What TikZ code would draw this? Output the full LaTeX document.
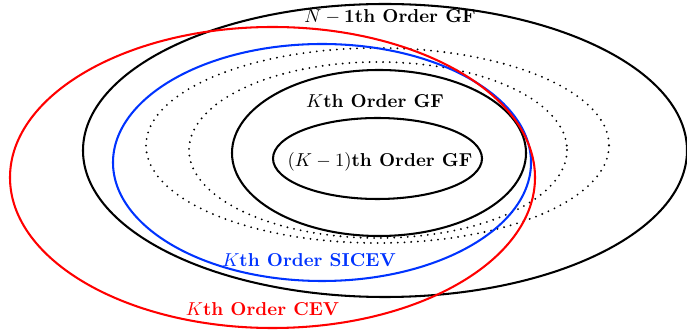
\documentclass[tikz,border=0pt]{standalone}
\usetikzlibrary{calc}
\definecolor{sicevblue}{rgb}{0,0.2,1}
\definecolor{cevred}{rgb}{1,0,0}
\begin{document}
\begin{tikzpicture}[x=0.535pt, y=-0.535pt,
  setline/.style={line width=1.1pt},
  dotline/.style={line width=1.1pt, line cap=round, dash pattern=on 0pt off 3.6pt},
  lbl/.style={anchor=base, inner sep=0pt, font=\bfseries}]
\useasboundingbox (0,0) rectangle (687,334);

% nested generating-function sets
\draw[setline] (385,150.5) ellipse [x radius=302, y radius=146.5];
\draw[dotline] (377.5,145.5) ellipse [x radius=231.5, y radius=97.5];
\draw[dotline] (378,150) ellipse [x radius=189, y radius=88];
\draw[setline] (379,153) ellipse [x radius=147, y radius=83];
\draw[setline] (377.5,158.5) ellipse [x radius=104.5, y radius=40.5];

% SICEV and CEV sets
\draw[setline, sicevblue] (322,162.5) ellipse [x radius=209, y radius=118.5];
\draw[setline, cevred] (272.5,177.5) ellipse [x radius=262.5, y radius=150.5];

% labels
\node[lbl] (gfN) at (390,23) {$N-{}$1th Order GF};
\node[lbl] (gfK) at (375,108) {$K$th Order GF};
\node[lbl] (gfKm) at (380,167) {$(K-1)$th Order GF};
\node[lbl, text=sicevblue] (sicev) at (309,267) {$K$th Order SICEV};
\node[lbl, text=cevred] (cev) at (262.5,315) {$K$th Order CEV};
\end{tikzpicture}
\end{document}
